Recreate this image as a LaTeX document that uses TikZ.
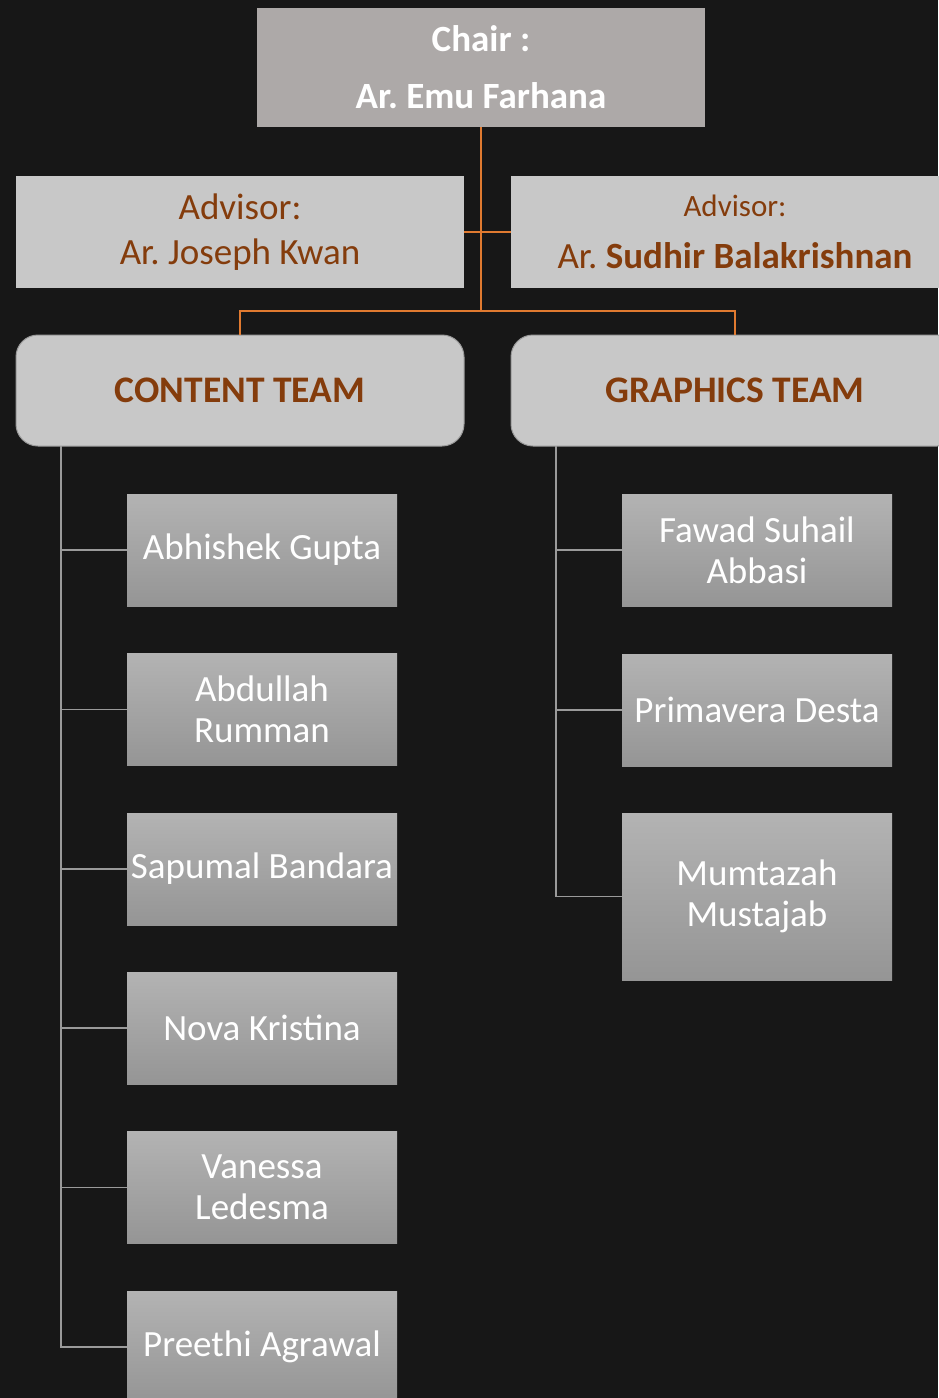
\documentclass[tikz,border=0pt]{standalone}
\usepackage{fontspec}
\setmainfont{Carlito}
\frenchspacing
\definecolor{bg}{HTML}{171717}
\definecolor{chairfill}{HTML}{ADA9A8}
\definecolor{advfill}{HTML}{C8C8C8}
\definecolor{brown}{HTML}{843C0C}
\definecolor{orangeline}{HTML}{E07A30}
\definecolor{greyline}{HTML}{9A9A9A}
\definecolor{memtop}{HTML}{B3B3B3}
\definecolor{membot}{HTML}{959595}
\tikzset{
  chairbox/.style={fill=chairfill, draw=none, minimum width=448pt, minimum height=119pt, inner sep=0pt, text=white, align=center, font=\fontsize{37}{57}\selectfont\bfseries},
  advbox/.style={fill=advfill, draw=none, minimum width=448pt, minimum height=112pt, inner sep=0pt, text=brown, align=center},
  teambox/.style={fill=advfill, draw=greyline, line width=1pt, rounded corners=22pt, minimum width=448pt, minimum height=111pt, inner sep=0pt, text=brown, align=center, font=\fontsize{37.5}{41}\selectfont\bfseries},
  membox/.style={top color=memtop, bottom color=membot, draw=none, minimum width=270pt, minimum height=112pt, inner sep=0pt, text=white, align=center, font=\fontsize{37}{41}\selectfont},
  orgline/.style={draw=orangeline, line width=2pt},
  memline/.style={draw=greyline, line width=1.6pt},
}
\begin{document}
\begin{tikzpicture}[x=1pt,y=-1pt]
\fill[bg] (0,0) rectangle (938,1398);
\useasboundingbox (0,0) rectangle (938,1398);

% Chair
\node[chairbox] (chair) at (481,67.5) {Chair :\\Ar. Emu Farhana};

% Advisors
\node[advbox, font=\fontsize{37}{45}\selectfont] (adv1) at (240,232) {Advisor:\\Ar. Joseph Kwan};
\node[advbox, font=\fontsize{37}{52}\selectfont] (adv2) at (735,232) {\fontsize{31}{52}\selectfont Advisor:\\\fontsize{37}{52}\selectfont Ar. \textbf{Sudhir Balakrishnan}};

% Teams
\node[teambox] (content) at (240,390.5) {CONTENT TEAM};
\node[teambox] (graphics) at (735,390.5) {GRAPHICS TEAM};

% Content members
\node[membox] (c1) at (262,550) {Abhishek Gupta};
\node[membox] (c2) at (262,709.5) {Abdullah\\Rumman};
\node[membox] (c3) at (262,869) {Sapumal Bandara};
\node[membox] (c4) at (262,1028) {Nova Kristina};
\node[membox] (c5) at (262,1187.5) {Vanessa\\Ledesma};
\node[membox] (c6) at (262,1347) {Preethi Agrawal};

% Graphics members
\node[membox] (g1) at (757,550) {Fawad Suhail\\Abbasi};
\node[membox] (g2) at (757,710) {Primavera Desta};
\node[membox, minimum height=167pt] (g3) at (757,896.5) {Mumtazah\\Mustajab};

% Orange connectors
\coordinate (split) at (481,311);
\draw[orgline] (chair.south) -- (split);
\draw[orgline] (adv1.east) -- (adv2.west);
\draw[orgline] (content.north) |- (split) -| (graphics.north);

% Grey connectors
\coordinate (cspine) at (61,446);
\coordinate (gspine) at (556,446);
\foreach \m in {c1,c2,c3,c4,c5,c6}{\draw[memline] (cspine) |- (\m.west);}
\foreach \m in {g1,g2,g3}{\draw[memline] (gspine) |- (\m.west);}
\end{tikzpicture}
\end{document}
